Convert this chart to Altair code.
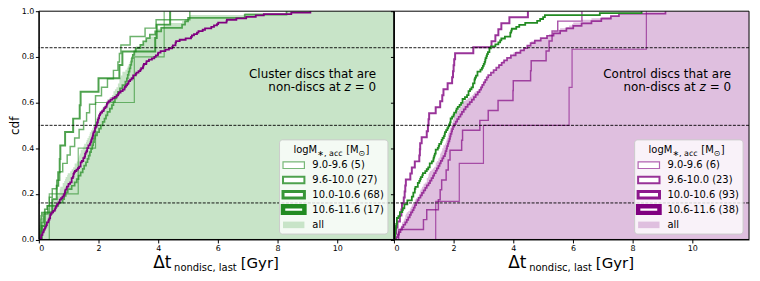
import altair as alt
import pandas as pd

XMAX = 11.9
H = 229.5
W = 357
FONT = "DejaVu Sans"
BIN_NAMES = ["9.0-9.6", "9.6-10.0", "10.0-10.6", "10.6-11.6"]
WIDTHS = [1.2, 2.0, 3.0, 4.5]
OPAC = [0.6, 0.8, 0.9, 1.0]
GREEN = "#228b22"
PURPLE = "#800080"
GREEN_FILL = "#c8e4c8"
PURPLE_FILL = "#dfbfdf"
DASH_LEVELS = [0.16, 0.5, 0.84]

# cluster sample: delta t_nondisc,last [Gyr] per stellar-mass bin
cl_90_96 = [0.35, 1.32, 1.9, 3.2, 4.2]
cl_96_100 = [0.05, 0.1, 0.15, 0.3, 0.35, 0.45, 0.6, 0.7, 0.8, 0.95, 1.05, 1.2, 1.35,
             1.5, 1.6, 1.7, 1.9, 2.1, 2.3, 2.5, 2.65, 2.7, 2.75, 3.06, 3.56, 3.93, 5.06]
cl_100_106 = [0.02, 0.03, 0.04, 0.05, 0.06, 0.07, 0.08, 0.1, 0.2, 0.28, 0.65, 0.8, 0.85,
              0.9, 0.97, 1.1, 1.2, 1.27, 1.33, 1.4, 1.47, 1.52, 1.58, 1.63, 1.67, 1.71,
              1.75, 1.79, 1.82, 1.85, 1.88, 1.95, 2.02, 2.08, 2.14, 2.2, 2.25, 2.3, 2.38,
              2.45, 2.5, 2.55, 2.6, 2.65, 2.72, 2.8, 2.9, 2.95, 2.98, 3.01, 3.04, 3.07,
              3.1, 3.12, 3.15, 3.2, 3.25, 3.4, 3.5, 3.6, 3.72, 3.9, 4.1, 4.8, 4.9, 5.0,
              6.9, 8.3]
cl_106_116 = [0.1, 0.2, 0.45, 0.6, 0.65, 0.7, 0.72, 0.88, 1.15, 1.37, 1.4, 2.0, 2.7, 2.8,
              3.9, 3.95, 4.4]

# control sample
ct_90_96 = [1.4, 2.19, 3.0, 5.87, 5.97, 8.46]
ct_96_100 = [0.16, 0.99, 1.1, 1.49, 1.55, 1.6, 1.75, 1.82, 1.88, 2.27, 2.3, 2.88, 3.16,
             3.49, 3.99, 4.0, 4.58, 4.6, 5.1, 5.2, 5.3, 5.49, 6.3]
ct_100_106 = [0.08, 0.125, 0.17, 0.22, 0.27, 0.32, 0.38, 0.43, 0.48, 0.53,
              0.57, 0.62, 0.66, 0.70, 0.745, 0.79, 0.83, 0.89, 0.94, 0.995,
              1.05, 1.10, 1.16, 1.21, 1.26, 1.31, 1.35, 1.40, 1.44, 1.49,
              1.53, 1.57, 1.62, 1.66, 1.71, 1.73, 1.76, 1.78, 1.81, 1.83,
              1.86, 1.88, 1.90, 1.93, 1.95, 1.98, 2.02, 2.07, 2.12, 2.17,
              2.23, 2.28, 2.34, 2.40, 2.47, 2.54, 2.61, 2.68, 2.74, 2.81,
              2.87, 2.92, 2.96, 3.01, 3.06, 3.11, 3.16, 3.25, 3.34, 3.43,
              3.52, 3.61, 3.69, 3.79, 3.92, 4.08, 4.24, 4.36, 4.47, 4.58,
              4.72, 4.92, 5.13, 5.35, 5.57, 5.78, 6.01, 6.29, 6.62, 6.95,
              7.27, 7.54, 9.1]
ct_106_116 = [0.04, 0.08, 0.12, 0.2, 0.25, 0.27, 0.33, 0.36, 0.38, 0.4, 0.55, 0.6, 0.7,
              0.85, 0.87, 0.88, 0.93, 1.1, 1.14, 1.16, 1.18, 1.4, 1.55, 1.62, 1.66, 1.8,
              1.95, 1.98, 2.0, 2.02, 2.05, 2.66, 3.27, 3.4, 3.5, 3.6, 3.87, 4.49]

CLUSTER = [cl_90_96, cl_96_100, cl_100_106, cl_106_116]
CONTROL = [ct_90_96, ct_96_100, ct_100_106, ct_106_116]

ONE = pd.DataFrame({"k": [0]})


def ecdf_rows(vals):
    s = sorted(vals)
    n = len(s)
    ts = [s[0]] + s
    cs = [0.0] + [(i + 1) / n for i in range(n)]
    return ts, cs


def lines_df(bins):
    rows = []
    for name, vals in zip(BIN_NAMES, bins):
        ts, cs = ecdf_rows(vals)
        for i, (t, c) in enumerate(zip(ts, cs)):
            rows.append({"series": name, "t": t, "c": c, "idx": i})
    return pd.DataFrame(rows)


def all_line_df(bins):
    allv = [v for b in bins for v in b]
    ts, cs = ecdf_rows(allv)
    return pd.DataFrame({"t": ts, "c": cs, "idx": list(range(len(ts)))})


def all_area_df(bins):
    allv = sorted(v for b in bins for v in b)
    n = len(allv)
    df = pd.DataFrame({"t": allv, "c": [(i + 1) / n for i in range(n)]})
    df = df.groupby("t", as_index=False)["c"].max()
    df = pd.concat([df, pd.DataFrame({"t": [XMAX], "c": [1.0]})], ignore_index=True)
    return df


def fy(ref_y):
    return (ref_y - 9.5) * H / 231.5


def txt(x, y, s, size, align="left", baseline="alphabetic", style="normal"):
    return alt.Chart(ONE).mark_text(
        text=s, font=FONT, fontSize=size, align=align, baseline=baseline,
        color="black", fontStyle=style
    ).encode(x=alt.value(x), y=alt.value(y))


def rect(x, x2, y, y2, **kw):
    return alt.Chart(ONE).mark_rect(**kw).encode(
        x=alt.value(x), x2=alt.value(x2), y=alt.value(y), y2=alt.value(y2))


X_ENC = alt.X("t:Q", scale=alt.Scale(domain=[0, XMAX], nice=False, zero=False),
              axis=alt.Axis(values=[0, 2, 4, 6, 8, 10], format="d", title=None,
                            labelPadding=2, tickSize=3.5, zindex=1))


def y_enc(show):
    if show:
        ax = alt.Axis(values=[0, 0.2, 0.4, 0.6, 0.8, 1.0], format=".1f", title="cdf",
                      titleFontSize=12, titleFontWeight="normal", titlePadding=0,
                      labelPadding=1.5, tickSize=3.5, zindex=1)
    else:
        ax = alt.Axis(values=[0, 0.2, 0.4, 0.6, 0.8, 1.0], labels=False, title=None,
                      tickSize=3.5, zindex=1)
    return alt.Y("c:Q", scale=alt.Scale(domain=[0, 1], nice=False), axis=ax)


def panel(bins, color, fill, other_bins, other_color, note, show_y):
    Y_ENC = y_enc(show_y)
    area = alt.Chart(all_area_df(bins)).mark_area(
        interpolate="step-after", color=fill, opacity=1, clip=True
    ).encode(x=X_ENC, y=Y_ENC)
    steps = alt.Chart(lines_df(bins)).mark_line(
        interpolate="step-after", color=color, clip=True
    ).encode(
        x=X_ENC, y=Y_ENC, order="idx:Q",
        strokeWidth=alt.StrokeWidth("series:N", scale=alt.Scale(domain=BIN_NAMES, range=WIDTHS), legend=None),
        opacity=alt.Opacity("series:N", scale=alt.Scale(domain=BIN_NAMES, range=OPAC), legend=None),
    )
    other = alt.Chart(all_line_df(other_bins)).mark_line(
        interpolate="step-after", color=other_color, strokeWidth=1.8, clip=True
    ).encode(x=X_ENC, y=Y_ENC, order="idx:Q")
    rules = alt.Chart(pd.DataFrame({"c": DASH_LEVELS})).mark_rule(
        color="black", strokeDash=[3, 1.4], strokeWidth=0.9
    ).encode(y=Y_ENC)

    layers = [area, steps, other, rules]
    # annotation (right-aligned, italic z)
    layers.append(txt(339, fy(77), note, 12, align="right"))
    layers.append(txt(339, fy(90.5), "= 0", 12, align="right"))
    layers.append(txt(313.5, fy(90.5), "z", 12, align="right", style="italic"))
    layers.append(txt(303.5, fy(90.5), "non-discs at", 12, align="right"))
    # legend
    bx = 242
    layers.append(rect(bx, bx + 109, fy(140), fy(235.5), fill="white", fillOpacity=0.8,
                       stroke="#cccccc", strokeWidth=1, cornerRadius=3))
    ty = fy(153.5)
    layers.append(txt(bx + 14, ty, "logM", 10))
    layers.append(txt(bx + 38, ty + 2.5, "∗, acc", 8))
    layers.append(txt(bx + 67, ty, "[M", 10))
    layers.append(txt(bx + 79.5, ty + 2.5, "⊙", 8))
    layers.append(txt(bx + 86.5, ty, "]", 10))
    rows = [fy(v) for v in [165.7, 180.7, 195.7, 210.7, 226.2]]
    for i, (name, vals) in enumerate(zip(BIN_NAMES, bins)):
        yy = rows[i]
        layers.append(rect(bx + 3.5, bx + 25, yy - 3.3, yy + 3.3, fill="white",
                           stroke=color, strokeWidth=WIDTHS[i], strokeOpacity=OPAC[i]))
        layers.append(txt(bx + 33, yy, f"{name} ({len(vals)})", 10, baseline="middle"))
    layers.append(rect(bx + 3.5, bx + 25, rows[4] - 3.3, rows[4] + 3.3, fill=fill))
    layers.append(txt(bx + 33, rows[4], "all", 10, baseline="middle"))
    # frame
    layers.append(rect(0, W, 0, H, fill="white", fillOpacity=0, stroke="black", strokeWidth=1))
    # x-axis title
    layers.append(txt(115, H + 29, "Δt", 17))
    layers.append(txt(136, H + 32, "nondisc, last", 10))
    layers.append(txt(203, H + 29, "[Gyr]", 15))
    return alt.layer(*layers).properties(width=W, height=H)


left = panel(CLUSTER, GREEN, GREEN_FILL, CONTROL, PURPLE, "Cluster discs that are", True)
right = panel(CONTROL, PURPLE, PURPLE_FILL, CLUSTER, GREEN, "Control discs that are", False)

chart = alt.hconcat(left, right, spacing=0, bounds="flush").properties(
    padding={"left": 0, "top": -1.5, "right": 2, "bottom": 0}
).configure_view(stroke=None).configure_axis(
    labelFont=FONT, labelFontSize=8, titleFont=FONT, domainColor="black",
    tickColor="black", labelColor="black", titleColor="black", grid=False
)

chart.save("out.html", embed_options={"renderer": "svg", "actions": False})
